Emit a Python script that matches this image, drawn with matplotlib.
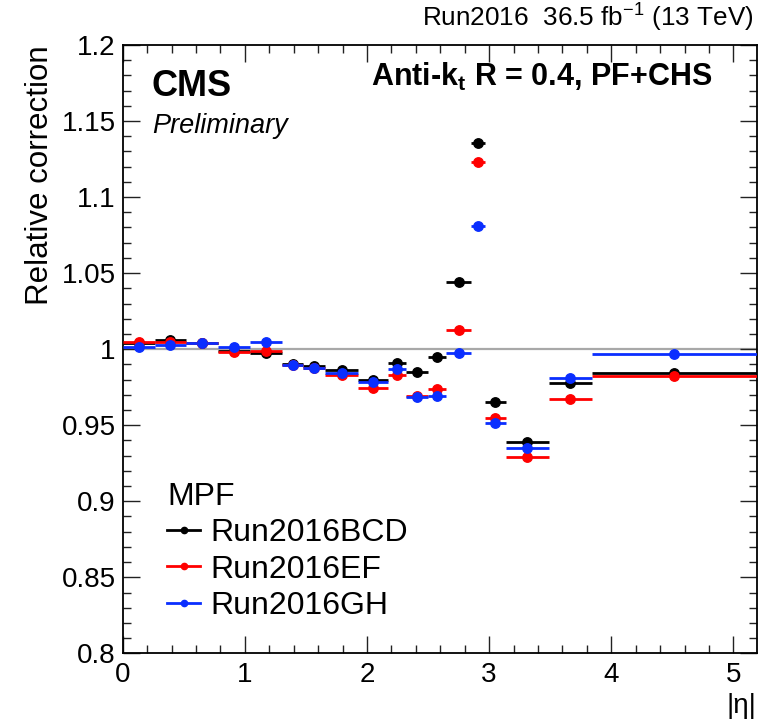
import matplotlib
matplotlib.use("Agg")
import matplotlib.pyplot as plt
from matplotlib.lines import Line2D
from matplotlib.ticker import MultipleLocator, FuncFormatter
import numpy as np

# |eta| bin edges and relative corrections per run period
ETA_EDGES = [0, 0.261, 0.522, 0.783, 1.044, 1.305, 1.479, 1.653, 1.930,
             2.172, 2.322, 2.500, 2.650, 2.853, 2.964, 3.139, 3.489, 3.839,
             5.191]
BCD = [1.004, 1.0061, 1.004, 0.999, 0.9977, 0.990, 0.989, 0.9862, 0.9798,
       0.9907, 0.985, 0.9947, 1.0444, 1.1354, 0.9655, 0.9392, 0.978, 0.9846]
EF = [1.0049, 1.0048, 1.004, 0.9984, 0.999, 0.9895, 0.9878, 0.9832, 0.9743,
      0.983, 0.9693, 0.9736, 1.0126, 1.1233, 0.9546, 0.9289, 0.9673, 0.9824]
GH = [1.0016, 1.0028, 1.0039, 1.0016, 1.0049, 0.9896, 0.9874, 0.9846,
      0.9782, 0.9868, 0.9688, 0.9692, 0.9973, 1.081, 0.9517, 0.9348, 0.9809,
      0.9968]
SERIES = [("Run2016BCD", BCD, "#000000"),
          ("Run2016EF", EF, "#ff0000"),
          ("Run2016GH", GH, "#0a2eff")]

FONT = ["Liberation Sans", "DejaVu Sans"]
plt.rcParams.update({
    "font.family": FONT,
    "mathtext.fontset": "custom",
    "mathtext.rm": "Liberation Sans",
    "mathtext.it": "Liberation Sans:italic",
    "mathtext.bf": "Liberation Sans:bold",
    "mathtext.default": "regular",
})

fig = plt.figure(figsize=(7.73, 7.22), dpi=100)
ax = fig.add_axes([0.1587, 0.0951, 0.8203, 0.8426])

edges = np.array(ETA_EDGES)
mid = 0.5 * (edges[1:] + edges[:-1])
half = 0.5 * (edges[1:] - edges[:-1])

ax.axhline(1.0, color="#a8a8a8", lw=1.6, zorder=1)
for label, vals, col in SERIES:
    ax.errorbar(mid, vals, xerr=half, fmt="o", color=col, ms=6.8,
                elinewidth=2.0, capsize=0, zorder=3)

ax.set_xlim(0, 5.191)
ax.set_ylim(0.8, 1.2)
ax.xaxis.set_major_locator(MultipleLocator(1))
ax.xaxis.set_minor_locator(MultipleLocator(0.2))
ax.yaxis.set_major_locator(MultipleLocator(0.05))
ax.yaxis.set_minor_locator(MultipleLocator(0.01))
ax.yaxis.set_major_formatter(FuncFormatter(
    lambda v, p: f"{v:.2f}".rstrip("0").rstrip(".")))
ax.tick_params(which="both", direction="in", top=True, right=True,
               width=1.0, color="#222222")
ax.tick_params(which="major", length=12, labelsize=20)
ax.tick_params(which="minor", length=6)
ax.tick_params(axis="y", pad=5)
ax.tick_params(axis="x", pad=6)
for s in ax.spines.values():
    s.set_linewidth(1.3)

ax.set_ylabel("Relative correction", fontsize=22.5, loc="top")
ax.yaxis.set_label_coords(-0.106, 1.0)
ax.set_xlabel("|η|", fontsize=20, loc="right")
ax.xaxis.set_label_coords(1.0, -0.066)

ax.text(0.046, 0.916, "CMS", transform=ax.transAxes, fontsize=26,
        fontweight="bold", va="baseline")
ax.text(0.046, 0.855, "Preliminary", transform=ax.transAxes, fontsize=19.5,
        style="italic", va="baseline")
ax.text(0.930, 0.9326, r"Anti-k$_\mathbf{t}$ R = 0.4, PF+CHS",
        transform=ax.transAxes, fontsize=22, fontweight="bold",
        ha="right", va="baseline")
ax.text(0.994, 1.0296, r"Run2016  36.5 fb$^{-1}$ (13 TeV)",
        transform=ax.transAxes, fontsize=18.8, ha="right", va="baseline")

handles = [Line2D([], [], color=c, marker="o", ms=4.5, lw=2)
           for _, _, c in SERIES]
leg = ax.legend(handles, [s[0] for s in SERIES], title="MPF",
                loc="upper left", bbox_to_anchor=(0.070, 0.282),
                frameon=False, fontsize=23, title_fontsize=23,
                borderpad=0, borderaxespad=0, handlelength=1.04,
                handletextpad=0.31, labelspacing=0.2, alignment="left")

fig.savefig("out.png", dpi=100)
